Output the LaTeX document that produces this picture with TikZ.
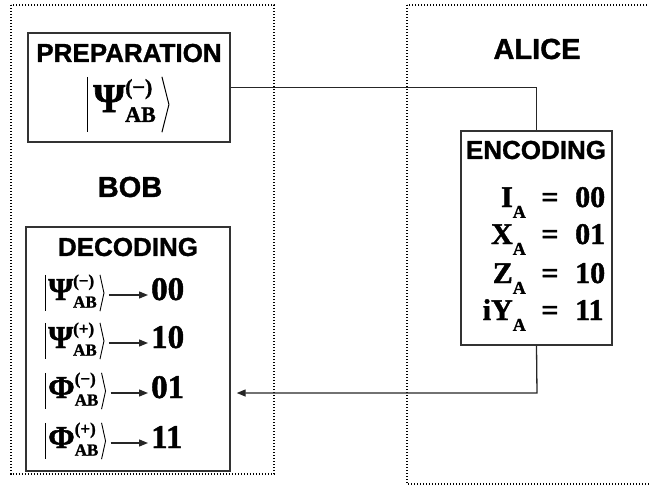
\documentclass[tikz,border=0pt]{standalone}
\usepackage{fontspec}
\usetikzlibrary{arrows.meta}
\newfontfamily\hvb{Liberation Sans}[UprightFont={* Bold}, FakeBold=1.2]
\newfontfamily\tmb{Liberation Serif}[UprightFont={* Bold}, FakeBold=1.4]
% glyph with stacked superscript and subscript
\newcommand\stackss[4]{{\fontsize{#3}{#3}\selectfont\raisebox{.8em}{\rlap{#1}}\raisebox{-.45em}{#2}}}
% letter with lowered subscript A
\newcommand\subA{{\fontsize{18}{18}\selectfont\raisebox{-.6em}{A}}}
\tikzset{
  frame/.style={draw=black, line width=1.2pt, dash pattern=on 1.2pt off 1.8pt},
  box/.style={draw=black!80, line width=1.4pt, fill=white, inner sep=0pt},
  wire/.style={draw=black!85, line width=1.3pt},
  arr/.style={wire, -{Triangle[length=9pt,width=7pt]}},
  head/.style={font=\hvb\fontsize{26}{26}\selectfont, inner sep=0pt},
  who/.style={font=\hvb\fontsize{29}{29}\selectfont, inner sep=0pt},
  num/.style={font=\tmb\fontsize{33}{33}\selectfont, inner sep=0pt, anchor=base west},
  kets/.style={font=\tmb\fontsize{32}{32}\selectfont, anchor=base west,
    text height=25pt, text depth=11pt, inner ysep=0pt, inner xsep=3pt},
  ketb/.style={font=\tmb\fontsize{41}{41}\selectfont, anchor=base west,
    text height=35pt, text depth=20pt, inner ysep=0pt, inner xsep=6pt},
  enc/.style={font=\tmb\fontsize{30}{30}\selectfont, inner sep=0pt},
}
\begin{document}
\begin{tikzpicture}[x=1pt,y=-1pt]
\useasboundingbox (0,0) rectangle (649,485);
\clip (0,0) rectangle (649,485);

% the two parties
\draw[frame] (11,5) rectangle (274,474);
\draw[frame] (407,5) rectangle (660,484);
\node[who] (bob) at (130,187) {BOB};
\node[who] (alice) at (537,49) {ALICE};

% boxes
\node[box, minimum width=202pt, minimum height=109pt] (prep) at (129,87.5) {};
\node[box, minimum width=151pt, minimum height=214pt] (encb) at (536.5,238) {};
\node[box, minimum width=204pt, minimum height=244pt] (dec) at (128,349) {};

% preparation
\node[head] (pt) at (129,53) {PREPARATION};
\node[ketb] (pk) at (87,112) {Ψ\stackss{(−)}{AB}{22}{}};
\draw[line width=1pt] (pk.north west) -- (pk.south west);
\draw[line width=1pt] (pk.north east) -- ([xshift=7pt]pk.east) -- (pk.south east);

% encoding
\node[head] (et) at (536,150) {ENCODING};
\foreach \i/\g/\v/\b in {1/I/00/207, 2/X/01/244, 3/Z/10/283, 4/iY/11/320}{
  \node[enc, anchor=base east] (eg\i) at (526,\b) {\g\subA};
  \node[enc, anchor=base] (eq\i) at (550,\b) {=};
  \node[enc, anchor=base west] (ev\i) at (575,\b) {\v};
}

% decoding
\node[head] (dt) at (128,247) {DECODING};
\foreach \i/\g/\s/\v/\b in {1/Ψ/−/00/300, 2/Ψ/+/10/348, 3/Φ/−/01/398, 4/Φ/+/11/448}{
  \node[kets] (dk\i) at (45,\b) {\g\stackss{(\s)}{AB}{17}{}};
  \draw[line width=0.9pt] (dk\i.north west) -- (dk\i.south west);
  \draw[line width=0.9pt] (dk\i.north east) -- ([xshift=4pt]dk\i.east) -- (dk\i.south east);
  \node[num] (dv\i) at (151,\b) {\v};
  \draw[arr, shorten <=9pt, shorten >=3pt] ([yshift=-2pt]dk\i.east) -- ([yshift=-2pt]dk\i.east -| dv\i.west);
}

% channel
\draw[wire] (prep.east) -| (encb.north);
\coordinate (bend) at (537,393);
\draw[arr, shorten >=6pt] (encb.south) -- (bend) -- (bend -| dec.east);
\end{tikzpicture}
\end{document}
